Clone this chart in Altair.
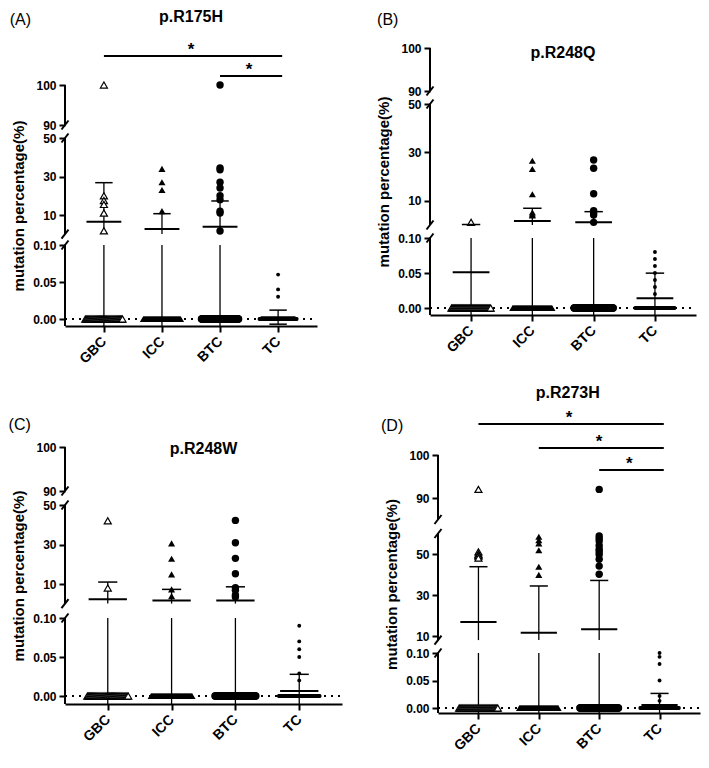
import altair as alt
import pandas as pd

FONT = "Liberation Sans, Arial, sans-serif"
CATS = ["GBC", "ICC", "BTC", "TC"]
TICKS = [0.00, 0.05, 0.10, 10, 30, 50, 90, 100]
TICK_TEXT = ["0.00", "0.05", "0.10", "10", "30", "50", "90", "100"]
Y_TITLE = "mutation percentage(%)"

# ---------------- Panel A : p.R175H
A_TITLE, A_TAG = "p.R175H", "(A)"
A_GBC = [100, 20, 17.5, 15.5, 11, 1.8]
A_ICC = [34, 27, 23, 12]
A_BTC = [100, 34.5, 33.5, 27, 24, 20, 18, 12, 11, 1.7]
A_TC = [0.06, 0.04, 0.03]
A_ZERO_N = [40, 60, 100, 60]
A_MEAN = [6.5, 2.7, 3.9, 0.0025]
A_SD = [20.3, 8.0, 13.4, 0.0095]
A_SIG = [["GBC", "TC"], ["BTC", "TC"]]

# ---------------- Panel B : p.R248Q
B_TITLE, B_TAG = "p.R248Q", "(B)"
B_GBC = [1.2]
B_ICC = [26.6, 23.2, 12.8, 5.3, 4.5, 4.0]
B_BTC = [26.9, 23.5, 13.0, 6.0, 5.0, 4.2, 1.2]
B_TC = [0.08, 0.07, 0.06, 0.05, 0.04, 0.03, 0.02]
B_ZERO_N = [40, 60, 100, 60]
B_MEAN = [0.051, 1.8, 1.2, 0.0138]
B_SD = [0.25, 5.2, 4.4, 0.036]
B_SIG = []

# ---------------- Panel C : p.R248W
C_TITLE, C_TAG = "p.R248W", "(C)"
C_GBC = [42, 8]
C_ICC = [30.6, 22.8, 14.9, 7.3, 3.9]
C_BTC = [42.2, 30.9, 23.0, 15.2, 8.1, 6.8, 4.4, 3.4]
C_TC = [0.09, 0.07, 0.06, 0.05, 0.029, 0.02]
C_ZERO_N = [40, 60, 100, 60]
C_MEAN = [2.3, 1.7, 1.7, 0.0064]
C_SD = [8.7, 5.6, 6.9, 0.0214]
C_SIG = []

# ---------------- Panel D : p.R273H
D_TITLE, D_TAG = "p.R273H", "(D)"
D_GBC = [92, 51, 50, 49.5, 49, 48]
D_ICC = [58.4, 56.7, 55.2, 51.8, 43.8, 39.8]
D_BTC = [92, 58.8, 57.6, 56.3, 54.2, 52.3, 51.1, 49.8, 47.4, 44.1, 40.1]
D_TC = [0.10, 0.093, 0.08, 0.05, 0.022, 0.013]
D_ZERO_N = [40, 60, 100, 60]
D_MEAN = [16.8, 11.6, 13.3, 0.0055]
D_SD = [27.0, 22.8, 23.8, 0.021]
D_SIG = [["GBC", "TC"], ["ICC", "TC"], ["BTC", "TC"]]

# ---------------- layout of the broken axes (value range -> pixel height above x axis)
LAYOUT = {
    "A": dict(width=252, height=314,
              segs=[(0.0, 0.10, 7, 81), (0.1, 50, 91.9, 188), (90, 100, 201, 241)],
              title=(1.5, 309), tag=(-1.44, 306), sig_d=[270, 250]),
    "B": dict(width=266, height=303,
              segs=[(0.0, 0.10, 7, 77), (0.1, 50, 90.0, 211), (90, 100, 224, 267)],
              title=(1.5, 262.5), tag=(-1.36, 295), sig_d=[]),
    "C": dict(width=277, height=318,
              segs=[(0.0, 0.10, 8, 86), (0.1, 50, 100.4, 199), (90, 100, 213, 257)],
              title=(1.5, 255.5), tag=(-1.38, 279.5), sig_d=[]),
    "D": dict(width=262, height=327,
              segs=[(0.0, 0.10, 5, 60), (8, 60, 72.9, 179.5), (85, 100, 193.5, 258)],
              title=(1.48, 320.5), tag=(-1.43, 287.5), sig_d=[289, 265, 243]),
}

PAD = 0.67   # x padding in category units
ZW = 0.32    # half width of the zero row
MW = 0.30    # half width of mean line
CW = 0.15    # half width of SD caps


def make_map(segs):
    out = []
    for i, (va, vb, da, db) in enumerate(segs):
        k = (db - da) / (vb - va)
        if i == 0 and da > 0:
            va, da = va - da / k, 0.0
        out.append((va, vb, da, db, k))
    return out


def to_d(v, m):
    for va, vb, da, db, k in m:
        if va - 1e-9 <= v <= vb + 1e-9:
            return round(da + (v - va) * k, 3)
    return None


STYLES = {
    "GBC": dict(shape="triangle-up", filled=False, fill="white", stroke="black", strokeWidth=1.2, size=50),
    "ICC": dict(shape="triangle-up", filled=True, color="black", size=50),
    "BTC": dict(shape="circle", filled=True, color="black", size=55),
    "TC": dict(shape="circle", filled=True, color="black", size=15),
}


def panel(key, title, tag, groups, zero_n, means, sds, sig):
    L = LAYOUT[key]
    W, H = L["width"], L["height"]
    m = make_map(L["segs"])
    step = W / (3 + 2 * PAD)
    xmin, xmax = -PAD, 3 + PAD
    d0 = to_d(0.0, m)

    # tick positions
    tick_d, tick_t = [], []
    for t, txt in zip(TICKS, TICK_TEXT):
        d = to_d(t, m)
        if d is not None:
            tick_d.append(d)
            tick_t.append(txt)
    parts = [f"abs(datum.value - {d}) < 0.01 ? '{t}'" for d, t in zip(tick_d, tick_t)]
    label_expr = " : ".join(parts) + " : ''"

    top_d = m[-1][3]
    xs = alt.Scale(domain=[xmin, xmax], nice=False, zero=False)
    ys = alt.Scale(domain=[0, H], nice=False, zero=False)
    cat_expr = "[" + ",".join(f"'{c}'" for c in CATS) + "][datum.value]"
    xax = alt.Axis(values=[0, 1, 2, 3], labelExpr=cat_expr, labelAngle=-45,
                   labelAlign="right", labelBaseline="middle",
                   labelFontSize=14, labelFontWeight="bold", tickSize=6, tickWidth=2,
                   domainWidth=2, grid=False, title="", labelPadding=7,
                   labelOverlap=False, labelFlush=False)
    yax = alt.Axis(values=tick_d, labelExpr=label_expr, domain=False, tickSize=6,
                   tickWidth=2, labelFontSize=12, labelFontWeight="bold", grid=False,
                   labelOverlap=False, labelFlush=False,
                   title=Y_TITLE, titleFontSize=15, titleFontWeight="bold",
                   titleY=H - top_d / 2, titlePadding=6, labelPadding=3)

    def X(f):
        return alt.X(f, type="quantitative", scale=xs, axis=xax)

    def Y(f):
        return alt.Y(f, type="quantitative", scale=ys, axis=yax)

    # points
    pts = []
    for i, (g, vals) in enumerate(zip(CATS, groups)):
        n = zero_n[i]
        for j in range(n):
            pts.append(dict(grp=g, x=i - ZW + 2 * ZW * j / (n - 1), d=d0))
        for v in vals:
            d = to_d(v, m)
            if d is not None:
                pts.append(dict(grp=g, x=i, d=d))
    pts = pd.DataFrame(pts)

    # error bars
    hm, hc, vl = [], [], []
    for i in range(4):
        mu, s = means[i], sds[i]
        d = to_d(mu, m)
        if d is not None:
            hm.append(dict(x=i - MW, x2=i + MW, d=d))
        for v in (mu + s, mu - s):
            d = to_d(v, m)
            if d is not None:
                hc.append(dict(x=i - CW, x2=i + CW, d=d))
        for va, vb, da, db, k in m:
            lo, hi = max(va, mu - s), min(vb, mu + s)
            if lo < hi:
                vl.append(dict(x=i, d=round(da + (lo - va) * k, 3), d2=round(da + (hi - va) * k, 3)))

    # broken y axis line + break marks
    ax_rows = [dict(x=xmin, d=da, d2=db) for va, vb, da, db, k in m]
    a = 3.5 / step
    sl = []
    for idx, (va, vb, da, db, k) in enumerate(m):
        if idx > 0:
            sl.append(dict(x=xmin - a, x2=xmin + a, d=da - 4.5, d2=da + 4.5))
        if idx < len(m) - 1:
            sl.append(dict(x=xmin - a, x2=xmin + a, d=db - 4.5, d2=db + 4.5))

    layers = []
    layers.append(alt.Chart(pd.DataFrame([dict(x=xmin, x2=xmax, d=d0)])).mark_rule(
        color="black", strokeWidth=2, strokeDash=[2, 5]).encode(x=X("x"), x2=alt.X2("x2"), y=Y("d")))
    layers.append(alt.Chart(pd.DataFrame(ax_rows)).mark_rule(color="black", strokeWidth=2).encode(
        x=X("x"), y=Y("d"), y2=alt.Y2("d2")))
    layers.append(alt.Chart(pd.DataFrame(sl)).mark_rule(color="black", strokeWidth=2).encode(
        x=X("x"), x2=alt.X2("x2"), y=Y("d"), y2=alt.Y2("d2")))
    layers.append(alt.Chart(pd.DataFrame(vl)).mark_rule(color="black", strokeWidth=1.3).encode(
        x=X("x"), y=Y("d"), y2=alt.Y2("d2")))
    for g in CATS:
        layers.append(alt.Chart(pts).transform_filter(alt.datum.grp == g).mark_point(
            opacity=1, **STYLES[g]).encode(x=X("x"), y=Y("d")))
    layers.append(alt.Chart(pd.DataFrame(hm)).mark_rule(color="black", strokeWidth=2).encode(
        x=X("x"), x2=alt.X2("x2"), y=Y("d")))
    if hc:
        layers.append(alt.Chart(pd.DataFrame(hc)).mark_rule(color="black", strokeWidth=1.5).encode(
            x=X("x"), x2=alt.X2("x2"), y=Y("d")))

    # titles
    tx = pd.DataFrame([dict(x=L["title"][0], d=L["title"][1], text=title)])
    layers.append(alt.Chart(tx).mark_text(font=FONT, fontSize=16, fontWeight="bold",
                                          baseline="middle", align="center").encode(
        x=X("x"), y=Y("d"), text=alt.Text("text:N")))
    tg = pd.DataFrame([dict(x=L["tag"][0], d=L["tag"][1], text=tag)])
    layers.append(alt.Chart(tg).mark_text(font=FONT, fontSize=16, fontWeight="normal",
                                          baseline="middle", align="center").encode(
        x=X("x"), y=Y("d"), text=alt.Text("text:N")))

    # significance bars
    if sig:
        bars, stars = [], []
        for (s0, s1), d in zip(sig, L["sig_d"]):
            i0, i1 = CATS.index(s0), CATS.index(s1)
            bars.append(dict(x=i0, x2=i1 + 0.07, d=d))
            stars.append(dict(x=(i0 + i1) / 2, d=d + 6, text="*"))
        layers.append(alt.Chart(pd.DataFrame(bars)).mark_rule(color="black", strokeWidth=2).encode(
            x=X("x"), x2=alt.X2("x2"), y=Y("d")))
        layers.append(alt.Chart(pd.DataFrame(stars)).mark_text(
            font=FONT, fontSize=17, fontWeight="bold", baseline="middle", align="center").encode(
            x=X("x"), y=Y("d"), text=alt.Text("text:N")))

    return alt.layer(*layers).properties(width=W, height=H)


pA = panel("A", A_TITLE, A_TAG, [A_GBC, A_ICC, A_BTC, A_TC], A_ZERO_N, A_MEAN, A_SD, A_SIG)
pB = panel("B", B_TITLE, B_TAG, [B_GBC, B_ICC, B_BTC, B_TC], B_ZERO_N, B_MEAN, B_SD, B_SIG)
pC = panel("C", C_TITLE, C_TAG, [C_GBC, C_ICC, C_BTC, C_TC], C_ZERO_N, C_MEAN, C_SD, C_SIG)
pD = panel("D", D_TITLE, D_TAG, [D_GBC, D_ICC, D_BTC, D_TC], D_ZERO_N, D_MEAN, D_SD, D_SIG)

chart = alt.vconcat(
    alt.hconcat(pA, pB, spacing=58),
    alt.hconcat(pC, pD, spacing=38),
    spacing=18,
).properties(
    padding={"left": 0, "right": 0, "top": 0, "bottom": 0}
).configure_view(stroke=None).configure_axis(
    labelFont=FONT, titleFont=FONT, labelColor="black", titleColor="black",
    domainColor="black", tickColor="black"
)

chart.save("out.html", embed_options={"renderer": "svg", "actions": False})
